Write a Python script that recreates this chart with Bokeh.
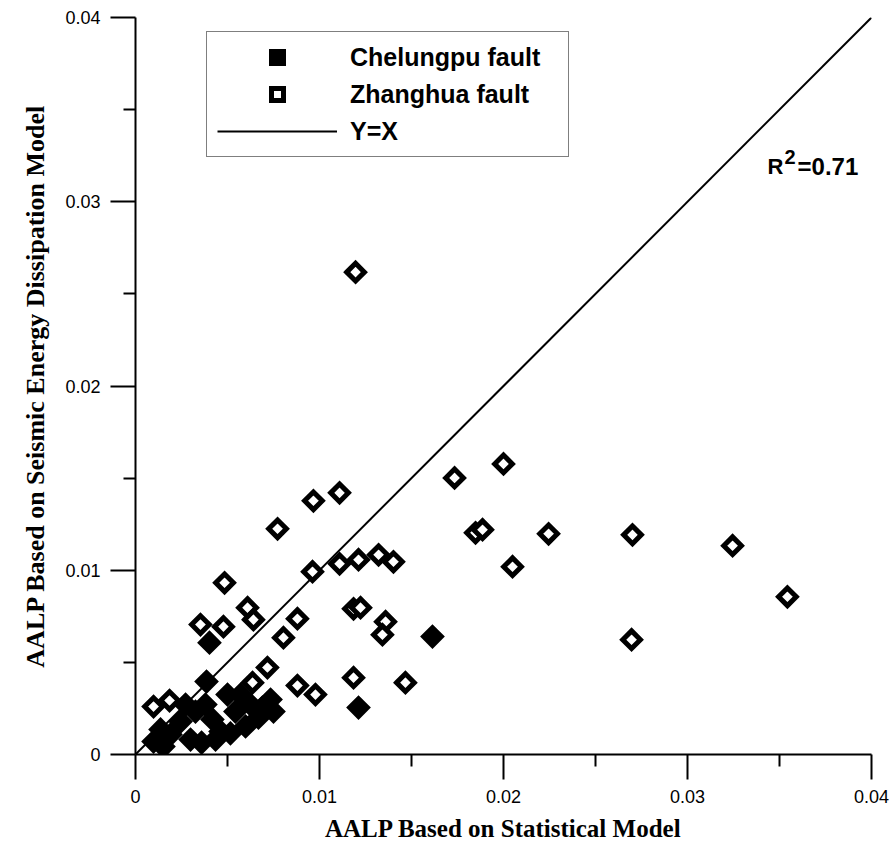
import numpy as np
from bokeh.plotting import figure
from bokeh.models import Range1d, FixedTicker, Legend, LegendItem, Label
from bokeh.embed import file_html
from bokeh.resources import INLINE

# Chelungpu fault (filled diamonds)
chelungpu_x = [0.00402, 0.00386, 0.01614, 0.01212, 0.00734, 0.00750, 0.00598, 0.00500,
               0.00098, 0.00152, 0.00299, 0.00359, 0.00245, 0.00326, 0.00418, 0.00462,
               0.00543, 0.00625, 0.00668, 0.00690, 0.00272, 0.00380, 0.00190, 0.00571,
               0.00136, 0.00435, 0.00516]
chelungpu_y = [0.00607, 0.00396, 0.00640, 0.00255, 0.00298, 0.00233, 0.00152, 0.00325,
               0.00070, 0.00043, 0.00081, 0.00065, 0.00179, 0.00233, 0.00190, 0.00125,
               0.00233, 0.00271, 0.00200, 0.00255, 0.00271, 0.00271, 0.00108, 0.00325,
               0.00136, 0.00081, 0.00115]

# Zhanghua fault (open diamonds)
zhanghua_x = [0.01196, 0.01734, 0.02000, 0.01848, 0.01886, 0.02245, 0.02049, 0.02701,
              0.03245, 0.03543, 0.02696, 0.00967, 0.01109, 0.00772, 0.00484, 0.00353,
              0.00478, 0.00609, 0.00641, 0.00880, 0.00804, 0.00717, 0.00962, 0.01109,
              0.01212, 0.01321, 0.01402, 0.01185, 0.01223, 0.01359, 0.01342, 0.01185,
              0.01467, 0.00880, 0.00978, 0.00636, 0.00098, 0.00185]
zhanghua_y = [0.02618, 0.01501, 0.01577, 0.01203, 0.01220, 0.01198, 0.01019, 0.01192,
              0.01133, 0.00856, 0.00623, 0.01377, 0.01420, 0.01225, 0.00932, 0.00705,
              0.00694, 0.00797, 0.00732, 0.00737, 0.00634, 0.00472, 0.00992, 0.01035,
              0.01057, 0.01084, 0.01046, 0.00791, 0.00797, 0.00721, 0.00650, 0.00417,
              0.00390, 0.00374, 0.00325, 0.00390, 0.00260, 0.00293]

# Y = X reference line
line_x = [0.0, 0.04]
line_y = [0.0, 0.04]

major_ticks = [0.0, 0.01, 0.02, 0.03, 0.04]
tick_labels = ["0", "0.01", "0.02", "0.03", "0.04"]
minor_ticks = [0.005, 0.015, 0.025, 0.035]

p = figure(width=892, height=844, x_range=Range1d(0, 0.04), y_range=Range1d(0, 0.04),
           output_backend="svg", toolbar_location=None,
           min_border_left=135, min_border_right=21, min_border_top=17, min_border_bottom=89)
p.outline_line_color = None
p.grid.visible = False
p.background_fill_color = "white"

for ax in (p.xaxis[0], p.yaxis[0]):
    ax.ticker = FixedTicker(ticks=major_ticks, minor_ticks=minor_ticks)
    ax.major_label_overrides = dict(zip(major_ticks, tick_labels))
    ax.axis_line_width = 2
    ax.axis_line_color = "black"
    ax.major_tick_in = 0
    ax.major_tick_out = 25
    ax.minor_tick_in = 0
    ax.minor_tick_out = 12
    ax.major_tick_line_width = 2
    ax.minor_tick_line_width = 2
    ax.major_label_text_font = "Liberation Sans"
    ax.major_label_text_color = "black"
    ax.major_label_standoff = 10
    ax.axis_label_text_font = "Liberation Serif"
    ax.axis_label_text_font_style = "bold"
    ax.axis_label_text_color = "black"

p.xaxis[0].axis_label = "AALP Based on Statistical Model"
p.yaxis[0].axis_label = "AALP Based on Seismic Energy Dissipation Model"
p.xaxis[0].major_label_text_font_size = "18px"
p.yaxis[0].major_label_text_font_size = "18px"
p.xaxis[0].axis_label_text_font_size = "25px"
p.yaxis[0].axis_label_text_font_size = "26px"
p.xaxis[0].axis_label_standoff = 9
p.yaxis[0].axis_label_standoff = 12

r_line = p.line(line_x, line_y, line_color="black", line_width=2)
r_open = p.scatter(zhanghua_x, zhanghua_y, marker="square", angle=np.pi / 4, size=12.5,
                   fill_color="white", line_color="black", line_width=5, line_join="miter")
r_fill = p.scatter(chelungpu_x, chelungpu_y, marker="square", angle=np.pi / 4, size=12.5,
                   fill_color="black", line_color="black", line_width=5, line_join="miter")

legend = Legend(items=[LegendItem(label="Chelungpu fault", renderers=[r_fill]),
                       LegendItem(label="Zhanghua fault", renderers=[r_open]),
                       LegendItem(label="Y=X", renderers=[r_line])],
                location=(71, 597))
legend.label_text_font = "Liberation Sans"
legend.label_text_font_style = "bold"
legend.label_text_font_size = "25px"
legend.label_text_color = "black"
legend.glyph_width = 120
legend.glyph_height = 30
legend.label_height = 30
legend.label_width = 208
legend.spacing = 7
legend.padding = 10
legend.margin = 0
legend.label_standoff = 13
legend.border_line_color = "black"
legend.border_line_width = 1
legend.background_fill_alpha = 1.0
p.add_layout(legend)

font_r = dict(text_font="Liberation Sans", text_font_style="bold", text_color="black",
              text_baseline="alphabetic")
p.add_layout(Label(x=0.03435, y=0.03192, text="R", text_font_size="22px", **font_r))
p.add_layout(Label(x=0.03527, y=0.03241, text="2", text_font_size="20px", **font_r))
p.add_layout(Label(x=0.03598, y=0.03192, text="=0.71", text_font_size="24px", **font_r))

open("out.html", "w").write(file_html(p, INLINE))
